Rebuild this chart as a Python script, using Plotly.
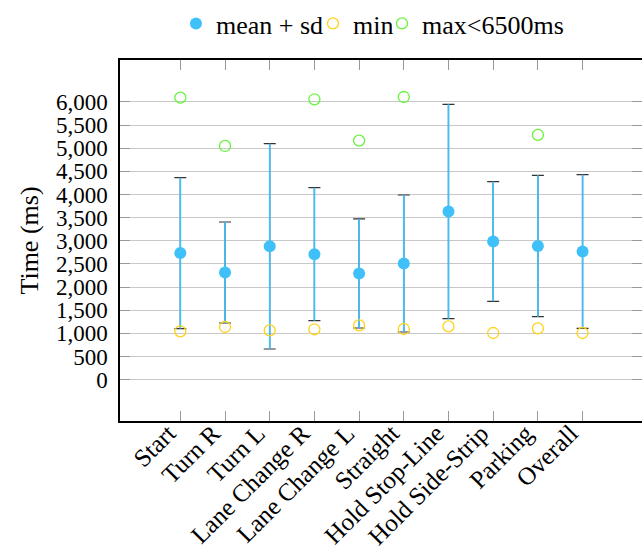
import plotly.graph_objects as go

categories = ["Start", "Turn R", "Turn L", "Lane Change R", "Lane Change L",
              "Straight", "Hold Stop-Line", "Hold Side-Strip", "Parking", "Overall"]
mean_ms = [2735, 2316, 2881, 2712, 2295, 2511, 3634, 2987, 2889, 2770]
sd_ms = [1630, 1091, 2218, 1437, 1178, 1480, 2316, 1293, 1527, 1660]
min_ms = [1045, 1139, 1067, 1089, 1175, 1096, 1153, 1009, 1110, 1009]
max_ms = [6094, 5050, None, 6058, 5165, 6108, None, None, 5288, None]
y_ticks = list(range(0, 6001, 500))

BLUE = "#40c0f8"
YELLOW = "#ffd21a"
GREEN = "#66f53a"
FONT = "Liberation Serif"

fig = go.Figure()
# caps (dark)
fig.add_trace(go.Scatter(
    x=categories, y=mean_ms, mode="markers", showlegend=False,
    marker=dict(size=1, color="rgba(0,0,0,0)"),
    error_y=dict(type="data", array=sd_ms, visible=True, color="#333333",
                 thickness=1.2, width=6),
    hoverinfo="skip"))
# blue bars + mean markers
fig.add_trace(go.Scatter(
    x=categories, y=mean_ms, mode="markers", name="mean + sd", legend="legend",
    marker=dict(size=12, color=BLUE, line=dict(width=0)),
    error_y=dict(type="data", array=sd_ms, visible=True, color=BLUE,
                 thickness=1.7, width=0)))
fig.add_trace(go.Scatter(
    x=categories, y=min_ms, mode="markers", name="min", legend="legend2",
    marker=dict(size=11, color="rgba(0,0,0,0)", line=dict(color=YELLOW, width=1.3))))
fig.add_trace(go.Scatter(
    x=categories, y=max_ms, mode="markers", name="max<6500ms", legend="legend3",
    marker=dict(size=11, color="rgba(0,0,0,0)", line=dict(color=GREEN, width=1.3))))

leg_common = dict(orientation="h", xanchor="left", y=1.0, yanchor="top",
                  xref="container", yref="container", font=dict(size=26),
                  itemwidth=30, bgcolor="rgba(0,0,0,0)")

fig.update_layout(
    width=642, height=550,
    margin=dict(l=120, r=0, t=60, b=129),
    paper_bgcolor="white", plot_bgcolor="white",
    font=dict(family=FONT, size=23, color="black"),
    legend=dict(x=0.2741, **leg_common),
    legend2=dict(x=0.4875, **leg_common),
    legend3=dict(x=0.5950, **leg_common),
    xaxis=dict(type="category", range=[-1.35, 10.33], tickangle=-45,
               automargin=False, ticklabelshift=-12, ticklabelstandoff=-14,
               ticks="inside", ticklen=10, tickcolor="#999999", tickwidth=1,
               showline=True, linecolor="black", linewidth=1.5, mirror="ticks",
               showgrid=False, zeroline=False, tickfont=dict(size=25)),
    yaxis=dict(range=[-892, 6907], tickvals=y_ticks, tickformat=",d",
               automargin=False,
               ticks="inside", ticklen=10, tickcolor="#999999", tickwidth=1,
               showline=True, linecolor="black", linewidth=1.5, mirror="ticks",
               showgrid=True, gridcolor="#c8c8c8", gridwidth=1.2, zeroline=False,
               ticklabelstandoff=6,
               title=dict(text="Time (ms)", font=dict(size=26), standoff=10),
               tickfont=dict(size=23)),
)

fig.write_html("out.html")
